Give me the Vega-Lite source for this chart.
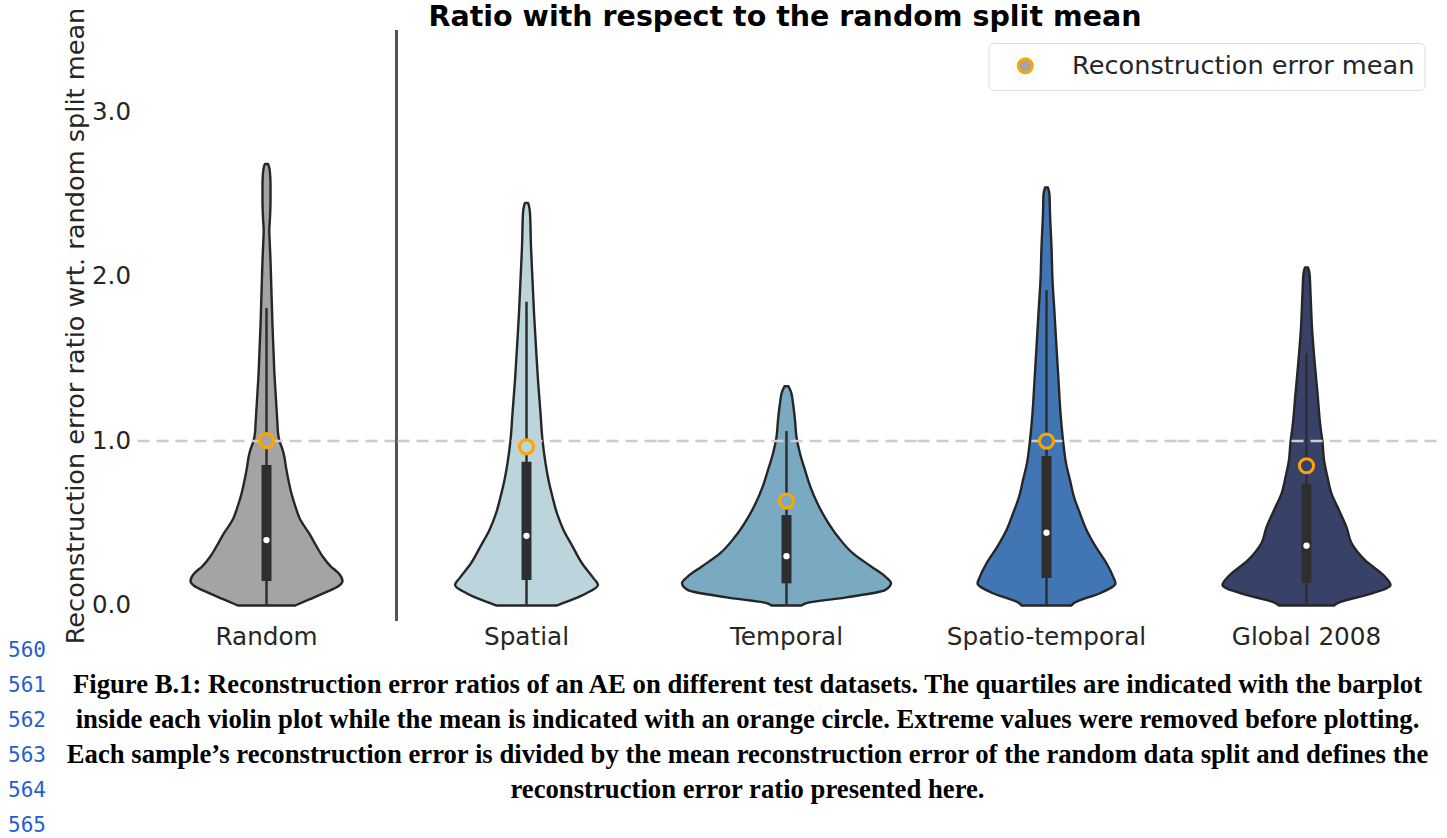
{
  "$schema": "https://vega.github.io/schema/vega-lite/v6.json",
  "padding": {"left": 7.5, "top": 2, "right": 0, "bottom": 0},
  "background": "white",
  "spacing": -21,
  "config": {
    "view": {"stroke": null},
    "font": "DejaVu Sans"
  },
  "vconcat": [
    {
      "title": {"text": "Ratio with respect to the random split mean", "fontSize": 28.5, "fontWeight": "bold", "font": "DejaVu Sans", "color": "#000000", "anchor": "start", "frame": "group", "dx": 292, "offset": -24},
      "data": {"values": [
        {"cat": "Random", "kind": "v", "y": 0.0, "dl": -28.5, "dr": 28.5},
        {"cat": "Random", "kind": "v", "y": 0.04, "dl": -44, "dr": 44},
        {"cat": "Random", "kind": "v", "y": 0.08, "dl": -59, "dr": 59},
        {"cat": "Random", "kind": "v", "y": 0.12, "dl": -72.5, "dr": 72.5},
        {"cat": "Random", "kind": "v", "y": 0.15, "dl": -76, "dr": 76},
        {"cat": "Random", "kind": "v", "y": 0.19, "dl": -73, "dr": 73},
        {"cat": "Random", "kind": "v", "y": 0.24, "dl": -64, "dr": 64},
        {"cat": "Random", "kind": "v", "y": 0.30, "dl": -56, "dr": 56},
        {"cat": "Random", "kind": "v", "y": 0.36, "dl": -50, "dr": 50},
        {"cat": "Random", "kind": "v", "y": 0.44, "dl": -42.5, "dr": 42.5},
        {"cat": "Random", "kind": "v", "y": 0.52, "dl": -34, "dr": 34},
        {"cat": "Random", "kind": "v", "y": 0.60, "dl": -29, "dr": 29},
        {"cat": "Random", "kind": "v", "y": 0.68, "dl": -25, "dr": 25},
        {"cat": "Random", "kind": "v", "y": 0.76, "dl": -22, "dr": 22},
        {"cat": "Random", "kind": "v", "y": 0.84, "dl": -19.5, "dr": 19.5},
        {"cat": "Random", "kind": "v", "y": 0.90, "dl": -18, "dr": 18},
        {"cat": "Random", "kind": "v", "y": 0.95, "dl": -16, "dr": 16},
        {"cat": "Random", "kind": "v", "y": 1.00, "dl": -13, "dr": 13},
        {"cat": "Random", "kind": "v", "y": 1.05, "dl": -11.5, "dr": 11.5},
        {"cat": "Random", "kind": "v", "y": 1.10, "dl": -11, "dr": 11},
        {"cat": "Random", "kind": "v", "y": 1.20, "dl": -10, "dr": 10},
        {"cat": "Random", "kind": "v", "y": 1.30, "dl": -9, "dr": 9},
        {"cat": "Random", "kind": "v", "y": 1.40, "dl": -8, "dr": 8},
        {"cat": "Random", "kind": "v", "y": 1.55, "dl": -7, "dr": 7},
        {"cat": "Random", "kind": "v", "y": 1.70, "dl": -6, "dr": 6},
        {"cat": "Random", "kind": "v", "y": 1.80, "dl": -5.5, "dr": 5.5},
        {"cat": "Random", "kind": "v", "y": 1.90, "dl": -5, "dr": 5},
        {"cat": "Random", "kind": "v", "y": 2.00, "dl": -4.5, "dr": 4.5},
        {"cat": "Random", "kind": "v", "y": 2.10, "dl": -4, "dr": 4},
        {"cat": "Random", "kind": "v", "y": 2.20, "dl": -3.3, "dr": 3.3},
        {"cat": "Random", "kind": "v", "y": 2.28, "dl": -2.8, "dr": 2.8},
        {"cat": "Random", "kind": "v", "y": 2.36, "dl": -3.5, "dr": 3.5},
        {"cat": "Random", "kind": "v", "y": 2.46, "dl": -4, "dr": 4},
        {"cat": "Random", "kind": "v", "y": 2.56, "dl": -4, "dr": 4},
        {"cat": "Random", "kind": "v", "y": 2.63, "dl": -3.5, "dr": 3.5},
        {"cat": "Random", "kind": "v", "y": 2.67, "dl": -2.5, "dr": 2.5},
        {"cat": "Random", "kind": "v", "y": 2.685, "dl": -1.5, "dr": 1.5},

        {"cat": "Spatial", "kind": "v", "y": 0.0, "dl": -30, "dr": 30},
        {"cat": "Spatial", "kind": "v", "y": 0.04, "dl": -47.5, "dr": 47.5},
        {"cat": "Spatial", "kind": "v", "y": 0.075, "dl": -60, "dr": 60},
        {"cat": "Spatial", "kind": "v", "y": 0.125, "dl": -71.5, "dr": 71.5},
        {"cat": "Spatial", "kind": "v", "y": 0.17, "dl": -66.5, "dr": 66.5},
        {"cat": "Spatial", "kind": "v", "y": 0.257, "dl": -55.5, "dr": 55.5},
        {"cat": "Spatial", "kind": "v", "y": 0.36, "dl": -46, "dr": 46},
        {"cat": "Spatial", "kind": "v", "y": 0.46, "dl": -37, "dr": 37},
        {"cat": "Spatial", "kind": "v", "y": 0.56, "dl": -30.5, "dr": 30.5},
        {"cat": "Spatial", "kind": "v", "y": 0.66, "dl": -26, "dr": 26},
        {"cat": "Spatial", "kind": "v", "y": 0.763, "dl": -22, "dr": 22},
        {"cat": "Spatial", "kind": "v", "y": 0.866, "dl": -19, "dr": 19},
        {"cat": "Spatial", "kind": "v", "y": 1.006, "dl": -16, "dr": 16},
        {"cat": "Spatial", "kind": "v", "y": 1.17, "dl": -14, "dr": 14},
        {"cat": "Spatial", "kind": "v", "y": 1.37, "dl": -11.5, "dr": 11.5},
        {"cat": "Spatial", "kind": "v", "y": 1.57, "dl": -9.5, "dr": 9.5},
        {"cat": "Spatial", "kind": "v", "y": 1.78, "dl": -7.5, "dr": 7.5},
        {"cat": "Spatial", "kind": "v", "y": 1.98, "dl": -6, "dr": 6},
        {"cat": "Spatial", "kind": "v", "y": 2.18, "dl": -4.5, "dr": 4.5},
        {"cat": "Spatial", "kind": "v", "y": 2.386, "dl": -3.5, "dr": 3.5},
        {"cat": "Spatial", "kind": "v", "y": 2.43, "dl": -2.5, "dr": 2.5},
        {"cat": "Spatial", "kind": "v", "y": 2.449, "dl": -1.5, "dr": 1.5},

        {"cat": "Temporal", "kind": "v", "y": 0.0, "dl": -15, "dr": 15},
        {"cat": "Temporal", "kind": "v", "y": 0.015, "dl": -20, "dr": 20},
        {"cat": "Temporal", "kind": "v", "y": 0.05, "dl": -60, "dr": 60},
        {"cat": "Temporal", "kind": "v", "y": 0.094, "dl": -98.5, "dr": 98.5},
        {"cat": "Temporal", "kind": "v", "y": 0.135, "dl": -104.5, "dr": 104.5},
        {"cat": "Temporal", "kind": "v", "y": 0.175, "dl": -99, "dr": 99},
        {"cat": "Temporal", "kind": "v", "y": 0.236, "dl": -85, "dr": 85},
        {"cat": "Temporal", "kind": "v", "y": 0.317, "dl": -66.5, "dr": 66.5},
        {"cat": "Temporal", "kind": "v", "y": 0.418, "dl": -51.5, "dr": 51.5},
        {"cat": "Temporal", "kind": "v", "y": 0.52, "dl": -40, "dr": 40},
        {"cat": "Temporal", "kind": "v", "y": 0.62, "dl": -31, "dr": 31},
        {"cat": "Temporal", "kind": "v", "y": 0.72, "dl": -24, "dr": 24},
        {"cat": "Temporal", "kind": "v", "y": 0.824, "dl": -18.5, "dr": 18.5},
        {"cat": "Temporal", "kind": "v", "y": 0.925, "dl": -13.5, "dr": 13.5},
        {"cat": "Temporal", "kind": "v", "y": 1.025, "dl": -10, "dr": 10},
        {"cat": "Temporal", "kind": "v", "y": 1.128, "dl": -8.5, "dr": 8.5},
        {"cat": "Temporal", "kind": "v", "y": 1.23, "dl": -6.5, "dr": 6.5},
        {"cat": "Temporal", "kind": "v", "y": 1.30, "dl": -4.5, "dr": 4.5},
        {"cat": "Temporal", "kind": "v", "y": 1.334, "dl": -2, "dr": 2},

        {"cat": "Spatio-temporal", "kind": "v", "y": 0.0, "dl": -25, "dr": 25},
        {"cat": "Spatio-temporal", "kind": "v", "y": 0.015, "dl": -27.5, "dr": 27.5},
        {"cat": "Spatio-temporal", "kind": "v", "y": 0.075, "dl": -53.5, "dr": 53.5},
        {"cat": "Spatio-temporal", "kind": "v", "y": 0.135, "dl": -69, "dr": 69},
        {"cat": "Spatio-temporal", "kind": "v", "y": 0.17, "dl": -67, "dr": 67},
        {"cat": "Spatio-temporal", "kind": "v", "y": 0.257, "dl": -60, "dr": 60},
        {"cat": "Spatio-temporal", "kind": "v", "y": 0.36, "dl": -49, "dr": 49},
        {"cat": "Spatio-temporal", "kind": "v", "y": 0.46, "dl": -40, "dr": 40},
        {"cat": "Spatio-temporal", "kind": "v", "y": 0.56, "dl": -33.5, "dr": 33.5},
        {"cat": "Spatio-temporal", "kind": "v", "y": 0.66, "dl": -27.5, "dr": 27.5},
        {"cat": "Spatio-temporal", "kind": "v", "y": 0.763, "dl": -23.5, "dr": 23.5},
        {"cat": "Spatio-temporal", "kind": "v", "y": 0.866, "dl": -19.5, "dr": 19.5},
        {"cat": "Spatio-temporal", "kind": "v", "y": 1.006, "dl": -16.5, "dr": 16.5},
        {"cat": "Spatio-temporal", "kind": "v", "y": 1.17, "dl": -14, "dr": 14},
        {"cat": "Spatio-temporal", "kind": "v", "y": 1.37, "dl": -12, "dr": 12},
        {"cat": "Spatio-temporal", "kind": "v", "y": 1.57, "dl": -10, "dr": 10},
        {"cat": "Spatio-temporal", "kind": "v", "y": 1.78, "dl": -8, "dr": 8},
        {"cat": "Spatio-temporal", "kind": "v", "y": 1.98, "dl": -6, "dr": 6},
        {"cat": "Spatio-temporal", "kind": "v", "y": 2.18, "dl": -5, "dr": 5},
        {"cat": "Spatio-temporal", "kind": "v", "y": 2.386, "dl": -3.5, "dr": 3.5},
        {"cat": "Spatio-temporal", "kind": "v", "y": 2.50, "dl": -3, "dr": 3},
        {"cat": "Spatio-temporal", "kind": "v", "y": 2.542, "dl": -1.5, "dr": 1.5},

        {"cat": "Global 2008", "kind": "v", "y": 0.0, "dl": -27.5, "dr": 27.5},
        {"cat": "Global 2008", "kind": "v", "y": 0.015, "dl": -31, "dr": 31},
        {"cat": "Global 2008", "kind": "v", "y": 0.075, "dl": -66.5, "dr": 66.5},
        {"cat": "Global 2008", "kind": "v", "y": 0.125, "dl": -84, "dr": 84},
        {"cat": "Global 2008", "kind": "v", "y": 0.175, "dl": -78.5, "dr": 78.5},
        {"cat": "Global 2008", "kind": "v", "y": 0.276, "dl": -58.5, "dr": 58.5},
        {"cat": "Global 2008", "kind": "v", "y": 0.38, "dl": -45, "dr": 45},
        {"cat": "Global 2008", "kind": "v", "y": 0.477, "dl": -40, "dr": 40},
        {"cat": "Global 2008", "kind": "v", "y": 0.58, "dl": -32.5, "dr": 32.5},
        {"cat": "Global 2008", "kind": "v", "y": 0.68, "dl": -25, "dr": 25},
        {"cat": "Global 2008", "kind": "v", "y": 0.78, "dl": -21, "dr": 21},
        {"cat": "Global 2008", "kind": "v", "y": 0.885, "dl": -17.5, "dr": 17.5},
        {"cat": "Global 2008", "kind": "v", "y": 0.994, "dl": -16, "dr": 16},
        {"cat": "Global 2008", "kind": "v", "y": 1.085, "dl": -14, "dr": 14},
        {"cat": "Global 2008", "kind": "v", "y": 1.29, "dl": -11, "dr": 11},
        {"cat": "Global 2008", "kind": "v", "y": 1.49, "dl": -8, "dr": 8},
        {"cat": "Global 2008", "kind": "v", "y": 1.69, "dl": -5.5, "dr": 5.5},
        {"cat": "Global 2008", "kind": "v", "y": 1.90, "dl": -4, "dr": 4},
        {"cat": "Global 2008", "kind": "v", "y": 2.02, "dl": -3, "dr": 3},
        {"cat": "Global 2008", "kind": "v", "y": 2.056, "dl": -1.5, "dr": 1.5},

        {"cat": "Random", "kind": "s", "lo": 0.0, "q1": 0.149, "med": 0.398, "q3": 0.854, "hi": 1.81, "mean": 1.003},
        {"cat": "Spatial", "kind": "s", "lo": 0.0, "q1": 0.155, "med": 0.424, "q3": 0.874, "hi": 1.847, "mean": 0.965},
        {"cat": "Temporal", "kind": "s", "lo": 0.0, "q1": 0.135, "med": 0.30, "q3": 0.55, "hi": 1.061, "mean": 0.635},
        {"cat": "Spatio-temporal", "kind": "s", "lo": 0.0, "q1": 0.167, "med": 0.443, "q3": 0.909, "hi": 1.918, "mean": 1.0},
        {"cat": "Global 2008", "kind": "s", "lo": 0.0, "q1": 0.137, "med": 0.364, "q3": 0.739, "hi": 1.535, "mean": 0.85}
      ]},
      "bounds": "flush",
      "spacing": 0,
      "facet": {
        "column": {
          "field": "cat", "type": "nominal",
          "sort": ["Random", "Spatial", "Temporal", "Spatio-temporal", "Global 2008"],
          "header": {"title": null, "labelOrient": "bottom", "labelFont": "DejaVu Sans", "labelFontSize": 24.7, "labelColor": "#262626", "labelPadding": 4}
        }
      },
      "spec": {
        "width": 260,
        "height": 591,
        "layer": [
          {
            "transform": [{"filter": "datum.kind === 'v'"}],
            "mark": {"type": "area", "orient": "horizontal", "interpolate": "monotone", "stroke": "#262626", "strokeWidth": 2.4, "strokeJoin": "round"},
            "encoding": {
              "y": {"field": "y", "type": "quantitative",
                "scale": {"domain": [-0.094, 3.5], "nice": false, "zero": false},
                "axis": {"title": "Reconstruction error ratio wrt. random split mean", "values": [0, 1, 2, 3], "format": ".1f", "domain": false, "ticks": false, "grid": false, "labelFont": "DejaVu Sans", "labelFontSize": 24.5, "labelColor": "#262626", "labelPadding": 6, "titleFont": "DejaVu Sans", "titleFontSize": 25.6, "titleFontWeight": "normal", "titleColor": "#262626", "titlePadding": 3}},
              "x": {"field": "dl", "type": "quantitative", "scale": {"domain": [-130, 130], "nice": false, "zero": false}, "axis": null},
              "x2": {"field": "dr"},
              "fill": {"field": "cat", "type": "nominal",
                "scale": {"domain": ["Random", "Spatial", "Temporal", "Spatio-temporal", "Global 2008"], "range": ["#a4a4a4", "#bcd4db", "#7aaac1", "#4275b3", "#384268"]},
                "legend": null}
            }
          },
          {
            "transform": [{"filter": "datum.kind === 's'"}],
            "mark": {"type": "rule", "color": "#2e2e2e", "strokeWidth": 2.5},
            "encoding": {"x": {"datum": 0}, "y": {"field": "lo", "type": "quantitative"}, "y2": {"field": "hi"}}
          },
          {
            "transform": [{"filter": "datum.kind === 's'"}],
            "mark": {"type": "rule", "color": "#2e2e2e", "strokeWidth": 10},
            "encoding": {"x": {"datum": 0}, "y": {"field": "q1", "type": "quantitative"}, "y2": {"field": "q3"}}
          },
          {
            "transform": [{"filter": "datum.kind === 's'"}],
            "mark": {"type": "rule", "color": "#cccccc", "strokeWidth": 2.5, "strokeDash": [12, 7]},
            "encoding": {"y": {"datum": 1}}
          },
          {
            "transform": [{"filter": "datum.kind === 's' && datum.cat === 'Random'"}],
            "mark": {"type": "rule", "color": "#555555", "strokeWidth": 3},
            "encoding": {"x": {"datum": 130}}
          },
          {
            "transform": [{"filter": "datum.kind === 's'"}],
            "mark": {"type": "point", "filled": true, "color": "#ffffff", "size": 40, "opacity": 1},
            "encoding": {"x": {"datum": 0}, "y": {"field": "med", "type": "quantitative"}}
          },
          {
            "transform": [{"filter": "datum.kind === 's'"}],
            "mark": {"type": "point", "filled": true, "size": 200, "strokeWidth": 3, "opacity": 1},
            "encoding": {
              "x": {"datum": 0},
              "y": {"field": "mean", "type": "quantitative"},
              "fill": {"field": "cat", "type": "nominal", "legend": null},
              "stroke": {"datum": "Reconstruction error mean", "type": "nominal", "scale": {"range": ["#ffa500"]},
                "legend": {"orient": "none", "legendX": 852, "legendY": 13, "title": null, "labelFont": "DejaVu Sans", "labelFontSize": 25.6, "labelColor": "#262626", "labelLimit": 0, "symbolType": "circle", "symbolSize": 200, "symbolStrokeWidth": 3, "symbolFillColor": "#a4a4a4", "symbolOpacity": 1, "strokeColor": "#dddddd", "fillColor": "#ffffff", "cornerRadius": 5, "padding": 10, "symbolOffset": 14, "labelOffset": 34}}
            }
          }
        ]
      }
    },
    {
      "width": 1222,
      "height": 175,
      "data": {"values": [
        {"line": "560", "text": ""},
        {"line": "561", "text": "Figure B.1: Reconstruction error ratios of an AE on different test datasets. The quartiles are indicated with the barplot"},
        {"line": "562", "text": "inside each violin plot while the mean is indicated with an orange circle. Extreme values were removed before plotting."},
        {"line": "563", "text": "Each sample’s reconstruction error is divided by the mean reconstruction error of the random data split and defines the"},
        {"line": "564", "text": "reconstruction error ratio presented here."},
        {"line": "565", "text": ""}
      ]},
      "mark": {"type": "text", "font": "Liberation Serif", "fontWeight": "bold", "fontSize": 26.7, "color": "#000000", "align": "center", "baseline": "middle"},
      "encoding": {
        "y": {"field": "line", "type": "ordinal", "scale": {"padding": 0},
          "axis": {"title": null, "domain": false, "ticks": false, "labelFont": "DejaVu Sans Mono", "labelFontSize": 21, "labelColor": "#1f5fd0", "labelPadding": 91}},
        "x": {"datum": 0.5, "type": "quantitative", "scale": {"domain": [0, 1]}, "axis": null},
        "text": {"field": "text"}
      }
    }
  ]
}
